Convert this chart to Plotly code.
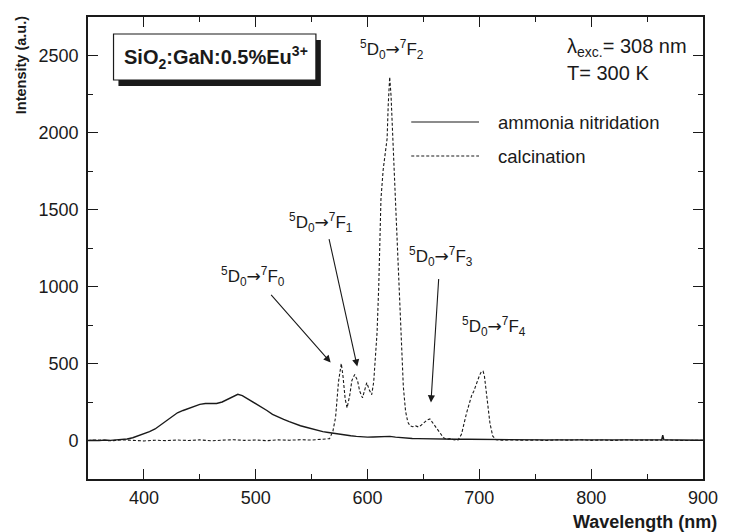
import plotly.graph_objects as go

# Emission spectra of SiO2:GaN:0.5%Eu3+ (excitation 308 nm, 300 K)
ammonia_nm = [350, 355, 360, 365, 370, 375, 380, 385, 390, 395, 400, 405, 410, 415, 420,
              425, 430, 435, 440, 445, 450, 455, 460, 465, 470, 475, 480, 484, 488, 492,
              496, 500, 505, 510, 515, 520, 525, 530, 535, 540, 545, 550, 555, 560, 565,
              570, 575, 580, 585, 590, 595, 600, 605, 610, 615, 620, 625, 630, 635, 640,
              645, 650, 655, 660, 670, 680, 690, 700, 710, 720, 740, 760, 780, 800, 820,
              840, 860, 863, 864, 865, 880, 900]
ammonia_int = [0, 2, -1, 3, 1, 4, 6, 10, 18, 30, 42, 58, 75, 100, 125,
               155, 180, 195, 208, 222, 235, 240, 242, 240, 250, 268, 288, 300, 292, 275,
               258, 243, 218, 195, 170, 152, 137, 122, 108, 96, 86, 76, 67, 58, 52,
               46, 40, 35, 31, 27, 24, 22, 23, 25, 28, 27, 22, 18, 15, 13,
               12, 11, 10, 10, 9, 8, 8, 7, 6, 5, 5, 4, 4, 3, 4,
               3, 3, 4, 35, 4, 3, 2]

calcination_nm = [350, 360, 370, 380, 390, 400, 410, 420, 430, 440, 450, 460, 470, 480, 490,
                  500, 510, 520, 530, 540, 550, 560, 566, 569, 571.4, 574, 576.5, 578, 580,
                  581.7, 584, 586, 588.5, 591, 593, 595.5, 597.5, 599.3, 601.5, 603.7, 605.5,
                  607, 608.5, 610, 612, 614, 616, 617.5, 618.5, 619.8, 621, 622, 623.3, 625,
                  627, 629, 630.5, 632, 634, 636, 638, 640.3, 643, 645.5, 647.6, 650, 653,
                  655.8, 658, 660, 662.2, 665, 668, 671, 674, 677, 681, 684, 686, 688.6,
                  691, 693, 695, 697.4, 700, 701.8, 703.3, 704.5, 706, 707.6, 709.5, 712,
                  715, 720, 730, 740, 750, 760, 770, 780, 790, 800, 810, 820, 830, 840,
                  850, 860, 870, 880, 890, 900]
calcination_int = [0, 3, -2, 4, 1, -3, 2, -1, 3, 0, 4, -2, 2, 5, 1,
                   3, -1, 4, 2, 5, 3, 6, 12, 60, 150, 380, 500, 420, 270,
                   212, 290, 390, 428, 390, 320, 277, 340, 375, 330, 297, 380,
                   520, 700, 1000, 1570, 1760, 1860, 1960, 2180, 2360, 2240, 2060, 1890, 1580,
                   1150, 800, 560, 350, 190, 120, 95, 89, 95, 88, 97, 112, 132,
                   140, 118, 95, 71, 40, 17, 8, 12, 5, 3, 40, 110, 180,
                   240, 290, 320, 375, 420, 448, 450, 420, 330, 222, 110, 28,
                   5, 2, 4, 1, 3, 0, 4, 2, 5, 1, 3, 0, 4, 2,
                   3, 1, 3, 0, 2, 1]

x_ticks = [400, 500, 600, 700, 800, 900]
y_ticks = [0, 500, 1000, 1500, 2000, 2500]

FONT = "Liberation Sans, Arial, sans-serif"
INK = "#1a1a1a"

fig = go.Figure()
fig.add_trace(go.Scatter(x=ammonia_nm, y=ammonia_int, mode="lines",
                         line=dict(color=INK, width=1.4), name="ammonia nitridation",
                         showlegend=False))
fig.add_trace(go.Scatter(x=calcination_nm, y=calcination_int, mode="lines",
                         line=dict(color=INK, width=1.1, dash="3px,2px"), name="calcination",
                         showlegend=False))

axis_common = dict(
    showline=True, linecolor=INK, linewidth=1.6, mirror="ticks",
    ticks="inside", ticklen=10, tickwidth=1.3, tickcolor=INK,
    showgrid=False, zeroline=False,
    tickfont=dict(family=FONT, size=18, color=INK),
)
fig.update_xaxes(range=[350, 900], tickvals=x_ticks,
                 minor=dict(ticks="inside", ticklen=5, tickwidth=1.2, tickcolor=INK, dtick=50,
                            tick0=350, showgrid=False),
                 ticklabelstandoff=2, **axis_common)
fig.update_yaxes(range=[-250, 2750], tickvals=y_ticks,
                 minor=dict(ticks="inside", ticklen=5, tickwidth=1.2, tickcolor=INK, dtick=250,
                            tick0=-250, showgrid=False),
                 ticklabelstandoff=4, **axis_common)

# sample label box with drop shadow
shapes = [
    dict(type="rect", xref="paper", yref="paper", x0=0.0495, x1=0.3786, y0=0.8506, y1=0.950,
         fillcolor=INK, line=dict(width=0), layer="above"),
    dict(type="rect", xref="paper", yref="paper", x0=0.0415, x1=0.3706, y0=0.8636, y1=0.9632,
         fillcolor="white", line=dict(color=INK, width=1.2), layer="above"),
    # legend keys
    dict(type="line", xref="paper", yref="paper", x0=0.5256, x1=0.6358, y0=0.7727, y1=0.7727,
         line=dict(color=INK, width=1.2)),
    dict(type="line", xref="paper", yref="paper", x0=0.5256, x1=0.6358, y0=0.6991, y1=0.6991,
         line=dict(color=INK, width=1.1, dash="3px,2px")),
]
fig.update_layout(shapes=shapes)

ann = []
ann.append(dict(xref="paper", yref="paper", x=0.208, y=0.913, showarrow=False,
                text="<b>SiO<sub>2</sub>:GaN:0.5%Eu<sup>3+</sup></b>",
                font=dict(family=FONT, size=20, color=INK), xanchor="center", yanchor="middle"))
ann.append(dict(xref="paper", yref="paper", x=0.664, y=0.7727, showarrow=False,
                text="ammonia nitridation", font=dict(family=FONT, size=18.5, color=INK),
                xanchor="left", yanchor="middle"))
ann.append(dict(xref="paper", yref="paper", x=0.664, y=0.6991, showarrow=False,
                text="calcination", font=dict(family=FONT, size=18.5, color=INK),
                xanchor="left", yanchor="middle"))
ann.append(dict(xref="paper", yref="paper", x=0.775, y=0.935, showarrow=False,
                text="λ<sub>exc.</sub>= 308 nm", font=dict(family=FONT, size=20, color=INK),
                xanchor="left", yanchor="middle"))
ann.append(dict(xref="paper", yref="paper", x=0.775, y=0.879, showarrow=False,
                text="T= 300 K", font=dict(family=FONT, size=20, color=INK),
                xanchor="left", yanchor="middle"))

# axis titles
ann.append(dict(xref="paper", yref="paper", x=-0.1086, y=0.896, showarrow=False,
                text="<b>Intensity (a.u.)</b>", textangle=-90,
                font=dict(family=FONT, size=14.5, color=INK), xanchor="center", yanchor="middle"))
ann.append(dict(xref="paper", yref="paper", x=1.026, y=-0.092, showarrow=False,
                text="<b>Wavelength (nm)</b>",
                font=dict(family=FONT, size=18, color=INK), xanchor="right", yanchor="middle"))

# transition labels
def transition(j):
    return ("<sup>5</sup>D<sub>0</sub>"
            "<span style='font-family:DejaVu Sans'>→</span>"
            "<sup>7</sup>F<sub>%d</sub>" % j)

labels = [(2, 621.5, 2539), (1, 558.3, 1416), (0, 497.6, 1065), (3, 665.5, 1195), (4, 712.9, 740)]
for j, lx, ly in labels:
    ann.append(dict(x=lx, y=ly, xref="x", yref="y", showarrow=False, text=transition(j),
                    font=dict(family=FONT, size=17, color=INK),
                    xanchor="center", yanchor="middle"))

# pointer arrows to the weaker transitions
arrows = [((512.6, 955), (567.0, 506)), ((565.3, 1318), (590.8, 480)), ((663.7, 1058), (656.7, 247))]
for (tx, ty), (hx, hy) in arrows:
    ann.append(dict(x=hx, y=hy, ax=tx, ay=ty, xref="x", yref="y", axref="x", ayref="y",
                    text="", showarrow=True, arrowhead=2, arrowsize=1.3, arrowwidth=1.1,
                    arrowcolor=INK))

fig.update_layout(
    annotations=ann,
    width=730, height=532,
    margin=dict(l=88, r=16, t=17, b=53),
    paper_bgcolor="white", plot_bgcolor="white",
    showlegend=False,
    font=dict(family=FONT, color=INK),
)

fig.write_html("out.html")
